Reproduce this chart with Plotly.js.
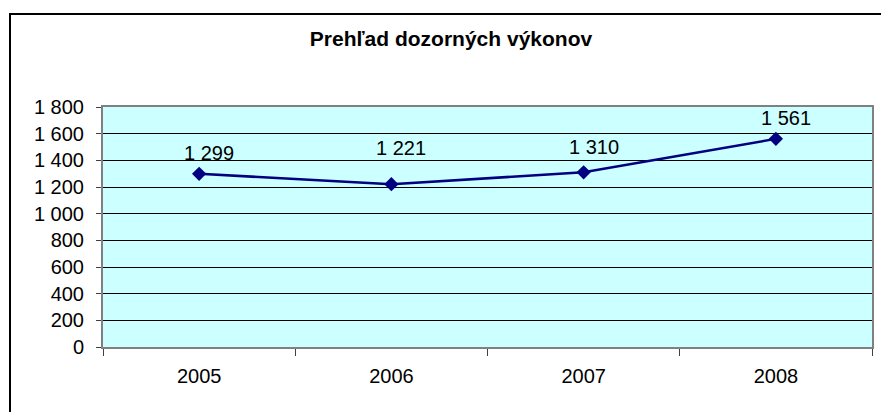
<!DOCTYPE html>
<html>
<head>
<meta charset="utf-8">
<script src="https://cdn.plot.ly/plotly-3.0.1.min.js"></script>
<style>
html,body{margin:0;padding:0;background:#fff;overflow:hidden;}
#wrap{position:relative;width:881px;height:412px;}
#chart{width:881px;height:412px;}
#frame{position:absolute;left:9px;top:13px;width:900px;height:420px;border-left:2px solid #000;border-top:2px solid #000;pointer-events:none;}
</style>
</head>
<body>
<div id="wrap"><div id="chart"></div><div id="frame"></div></div>
<script>
const years = ['2005', '2006', '2007', '2008'];
const values = [1299, 1221, 1310, 1561];
const yTicks = [0, 200, 400, 600, 800, 1000, 1200, 1400, 1600, 1800];
const chartTitle = 'Prehľad dozorných výkonov';

function fmt(v) { return String(v).replace(/\B(?=(\d{3})+(?!\d))/g, ' '); }

const font = { family: '"Liberation Sans", Arial, sans-serif', size: 20, color: '#000' };

const trace = {
  type: 'scatter', mode: 'lines+markers',
  x: years, y: values,
  line: { color: '#000080', width: 2.5 },
  marker: { symbol: 'diamond', size: 11, color: '#000080' },
  hoverinfo: 'skip', cliponaxis: false
};

// label placement as in the original chart (pixels above each point)
const labelLift = [21, 36, 25, 21];
const annotations = years.map((yr, i) => ({
  x: i, y: values[i], xref: 'x', yref: 'y',
  text: fmt(values[i]), showarrow: false,
  xshift: 10, yshift: labelLift[i], font: font
}));

const layout = {
  width: 881, height: 412,
  margin: { l: 103, r: 9, t: 107, b: 65 },
  paper_bgcolor: '#ffffff', plot_bgcolor: '#CCFFFF',
  separators: ', ',
  font: font,
  showlegend: false,
  title: { text: '<b>' + chartTitle + '</b>', font: { family: font.family, size: 21, color: '#000' },
           x: 451 / 881, xanchor: 'center', xref: 'container', y: 1 - 39 / 412, yanchor: 'middle', yref: 'container' },
  xaxis: {
    type: 'category', categoryorder: 'array', categoryarray: years,
    range: [-0.5, years.length - 0.5], autorange: false,
    tickson: 'boundaries', ticks: 'outside', ticklen: 7, tickcolor: '#404040', tickwidth: 1,
    tickangle: 0,
    showgrid: false, showline: true, mirror: true, linecolor: '#808080', linewidth: 2,
    tickfont: font, ticklabelstandoff: 10, zeroline: false, fixedrange: true
  },
  yaxis: {
    range: [0, 1800], autorange: false, tickvals: yTicks, ticktext: yTicks.map(fmt),
    ticks: 'outside', ticklen: 5, tickcolor: '#404040', tickwidth: 1,
    showgrid: true, gridcolor: '#000000', gridwidth: 1,
    showline: true, mirror: true, linecolor: '#808080', linewidth: 2,
    zeroline: false, tickfont: font, ticklabelstandoff: 8, fixedrange: true
  },
  annotations: annotations
};

Plotly.newPlot('chart', [trace], layout, { displayModeBar: false, staticPlot: true });
</script>
</body>
</html>
